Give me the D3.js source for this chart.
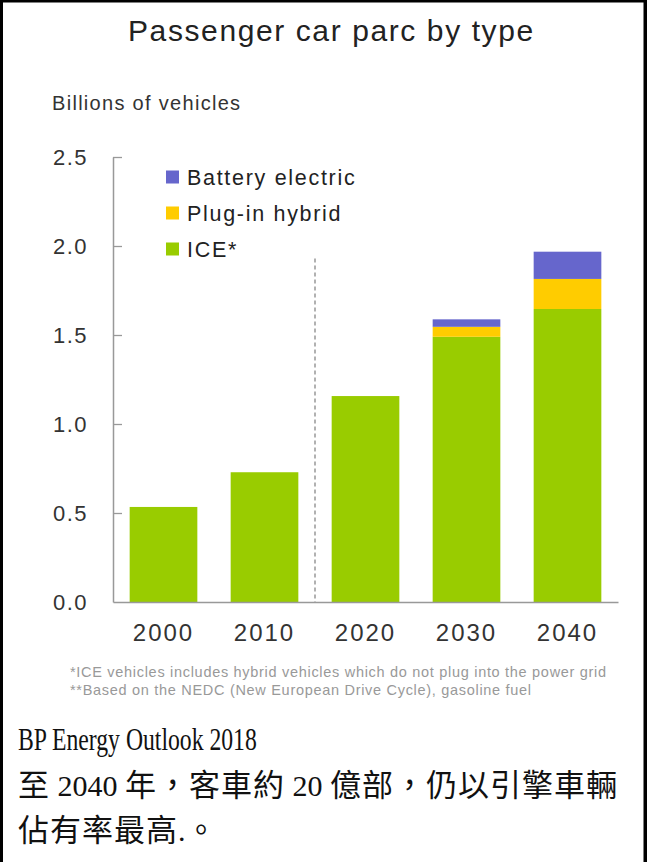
<!DOCTYPE html>
<html>
<head>
<meta charset="utf-8">
<script src="https://cdn.jsdelivr.net/npm/d3@7"></script>
<style>
  body { margin: 0; background: #fff; }
  svg { display: block; }
  .axis text { font-family: "Liberation Sans", Arial, sans-serif; fill: #333; }
</style>
</head>
<body>
<svg id="chart" width="648" height="862"></svg>
<script>
// chart values
const years = ["2000", "2010", "2020", "2030", "2040"];
const iceValues = [0.534, 0.729, 1.157, 1.49, 1.646];
const plugInValues = [0, 0, 0, 0.056, 0.169];
const batteryValues = [0, 0, 0, 0.042, 0.153];
const seriesKeys = ["ice", "plugin", "battery"];
const seriesLabels = ["ICE*", "Plug-in hybrid", "Battery electric"];
const seriesColors = ["#99cc00", "#ffcc00", "#6666cc"];
const yTicks = [0, 0.5, 1.0, 1.5, 2.0, 2.5];
const dividerTop = 1.93; // where the dashed projection line starts (value units)

const titleText = "Passenger car parc by type";
const unitText = "Billions of vehicles";
const footnotes = [
  "*ICE vehicles includes hybrid vehicles which do not plug into the power grid",
  "**Based on the NEDC (New European Drive Cycle), gasoline fuel"
];
const captionLines = [
  "BP Energy Outlook 2018",
  "至 2040 年，客車約 20 億部，仍以引擎車輛",
  "佔有率最高.。"
];

const svg = d3.select("#chart");
const sans = "'Liberation Sans', Arial, sans-serif";

// frame of the table cell
svg.append("rect").attr("x", 0).attr("y", 0).attr("width", 3).attr("height", 862).attr("fill", "#000");
svg.append("rect").attr("x", 643.5).attr("y", 0).attr("width", 3.5).attr("height", 862).attr("fill", "#000");
svg.append("rect").attr("x", 0).attr("y", 0).attr("width", 647).attr("height", 2.5).attr("fill", "#000");

// title + unit
svg.append("text")
    .attr("x", 128).attr("y", 41)
    .attr("font-family", sans).attr("font-size", 30)
    .attr("letter-spacing", 1.6)
    .attr("fill", "#222")
    .text(titleText);

svg.append("text")
    .attr("x", 52).attr("y", 110)
    .attr("font-family", sans).attr("font-size", 20)
    .attr("letter-spacing", 1.3)
    .attr("fill", "#333")
    .text(unitText);

// scales
var x = d3.scaleBand()
    .domain(years)
    .range([113, 618])
    .paddingInner(0.33)
    .paddingOuter(0.165);

var y = d3.scaleLinear()
    .domain([0, 2.5])
    .range([602, 157]);

var color = d3.scaleOrdinal().domain(seriesKeys).range(seriesColors);

var rows = years.map(function(yr, i) {
    return { year: yr, ice: iceValues[i], plugin: plugInValues[i], battery: batteryValues[i] };
});

var stacked = d3.stack().keys(seriesKeys)(rows);

svg.append("g")
  .selectAll("g")
  .data(stacked)
  .enter().append("g")
    .attr("fill", function(d) { return color(d.key); })
  .selectAll("rect")
  .data(function(d) { return d; })
  .enter().append("rect")
    .attr("x", function(d) { return x(d.data.year); })
    .attr("y", function(d) { return y(d[1]); })
    .attr("width", x.bandwidth())
    .attr("height", function(d) { return y(d[0]) - y(d[1]); });

// dashed line between history and projection
var divX = (x("2010") + x.bandwidth() + x("2020")) / 2;
svg.append("line")
    .attr("x1", divX).attr("x2", divX)
    .attr("y1", y(dividerTop)).attr("y2", y(0))
    .attr("stroke", "#888")
    .attr("stroke-width", 1.3)
    .attr("stroke-dasharray", "4,3");

// y axis, ticks point inward
var yAxis = svg.append("g")
    .attr("class", "axis")
    .attr("transform", "translate(113,0)")
    .call(d3.axisLeft(y)
        .tickValues(yTicks)
        .tickFormat(d3.format(".1f"))
        .tickSizeInner(-9)
        .tickSizeOuter(0)
        .tickPadding(25));
yAxis.select(".domain").attr("stroke", "#999").attr("stroke-width", 1.5);
yAxis.selectAll(".tick line").attr("stroke", "#999").attr("stroke-width", 1.3);
yAxis.selectAll(".tick").filter(function(d) { return d === 0; }).select("line").remove();
yAxis.selectAll("text")
    .attr("font-size", 22)
    .attr("letter-spacing", 1.5)
    .attr("fill", "#333");

// x axis
var xAxis = svg.append("g")
    .attr("class", "axis")
    .attr("transform", "translate(0,602)")
    .call(d3.axisBottom(x).tickSize(0).tickSizeOuter(0).tickPadding(22));
xAxis.select(".domain").attr("stroke", "#999").attr("stroke-width", 1.5);
xAxis.selectAll("text")
    .attr("font-size", 24)
    .attr("letter-spacing", 2)
    .attr("fill", "#333");

// legend (battery on top)
var legend = svg.append("g")
    .selectAll("g")
    .data(seriesKeys.slice().reverse())
    .enter().append("g")
      .attr("transform", function(d, i) { return "translate(166," + (177 + i * 36) + ")"; });

legend.append("rect")
    .attr("x", 0).attr("y", -6.5)
    .attr("width", 13).attr("height", 13)
    .attr("fill", color);

legend.append("text")
    .attr("x", 21)
    .attr("dy", "0.36em")
    .attr("font-family", sans)
    .attr("font-size", 21.5)
    .attr("letter-spacing", 1.7)
    .attr("fill", "#222")
    .text(function(d) { return seriesLabels[seriesKeys.indexOf(d)]; });

// footnotes
svg.append("g")
  .selectAll("text")
  .data(footnotes)
  .enter().append("text")
    .attr("x", 70)
    .attr("y", function(d, i) { return 677 + i * 18; })
    .attr("font-family", sans)
    .attr("font-size", 14.5)
    .attr("letter-spacing", 0.7)
    .attr("fill", "#999")
    .text(function(d) { return d; });

// caption below the image: latin runs in a narrow serif, CJK runs wider
var runPattern = /[\u3000-\u9fff\uff00-\uffef]+|[^\u3000-\u9fff\uff00-\uffef]+/g;
var isCjkRun = /[\u3000-\u9fff\uff00-\uffef]/;
var serif = "'Liberation Serif', 'Times New Roman', serif";
var cjkFont = "'Noto Sans CJK TC', sans-serif";

// first line is plain latin, squeezed as a whole
var bp = svg.append("text")
    .attr("x", 18).attr("y", 750)
    .attr("font-family", serif).attr("font-size", 32)
    .attr("fill", "#111")
    .text(captionLines[0]);
bp.attr("textLength", bp.node().getComputedTextLength() * 0.74)
  .attr("lengthAdjust", "spacingAndGlyphs");

function drawCaptionLine(str, x0, y0) {
    var t = svg.append("text")
        .attr("x", x0).attr("y", y0)
        .attr("fill", "#111")
        .style("white-space", "pre");
    str.match(runPattern).forEach(function(run) {
        var span = t.append("tspan").text(run);
        if (isCjkRun.test(run)) {
            span.attr("font-family", cjkFont).attr("font-size", 31).attr("letter-spacing", 1.0);
        } else {
            span.attr("font-family", serif).attr("font-size", 30);
        }
    });
}

drawCaptionLine(captionLines[1], 18, 796);
drawCaptionLine(captionLines[2], 18, 841);
</script>
</body>
</html>
